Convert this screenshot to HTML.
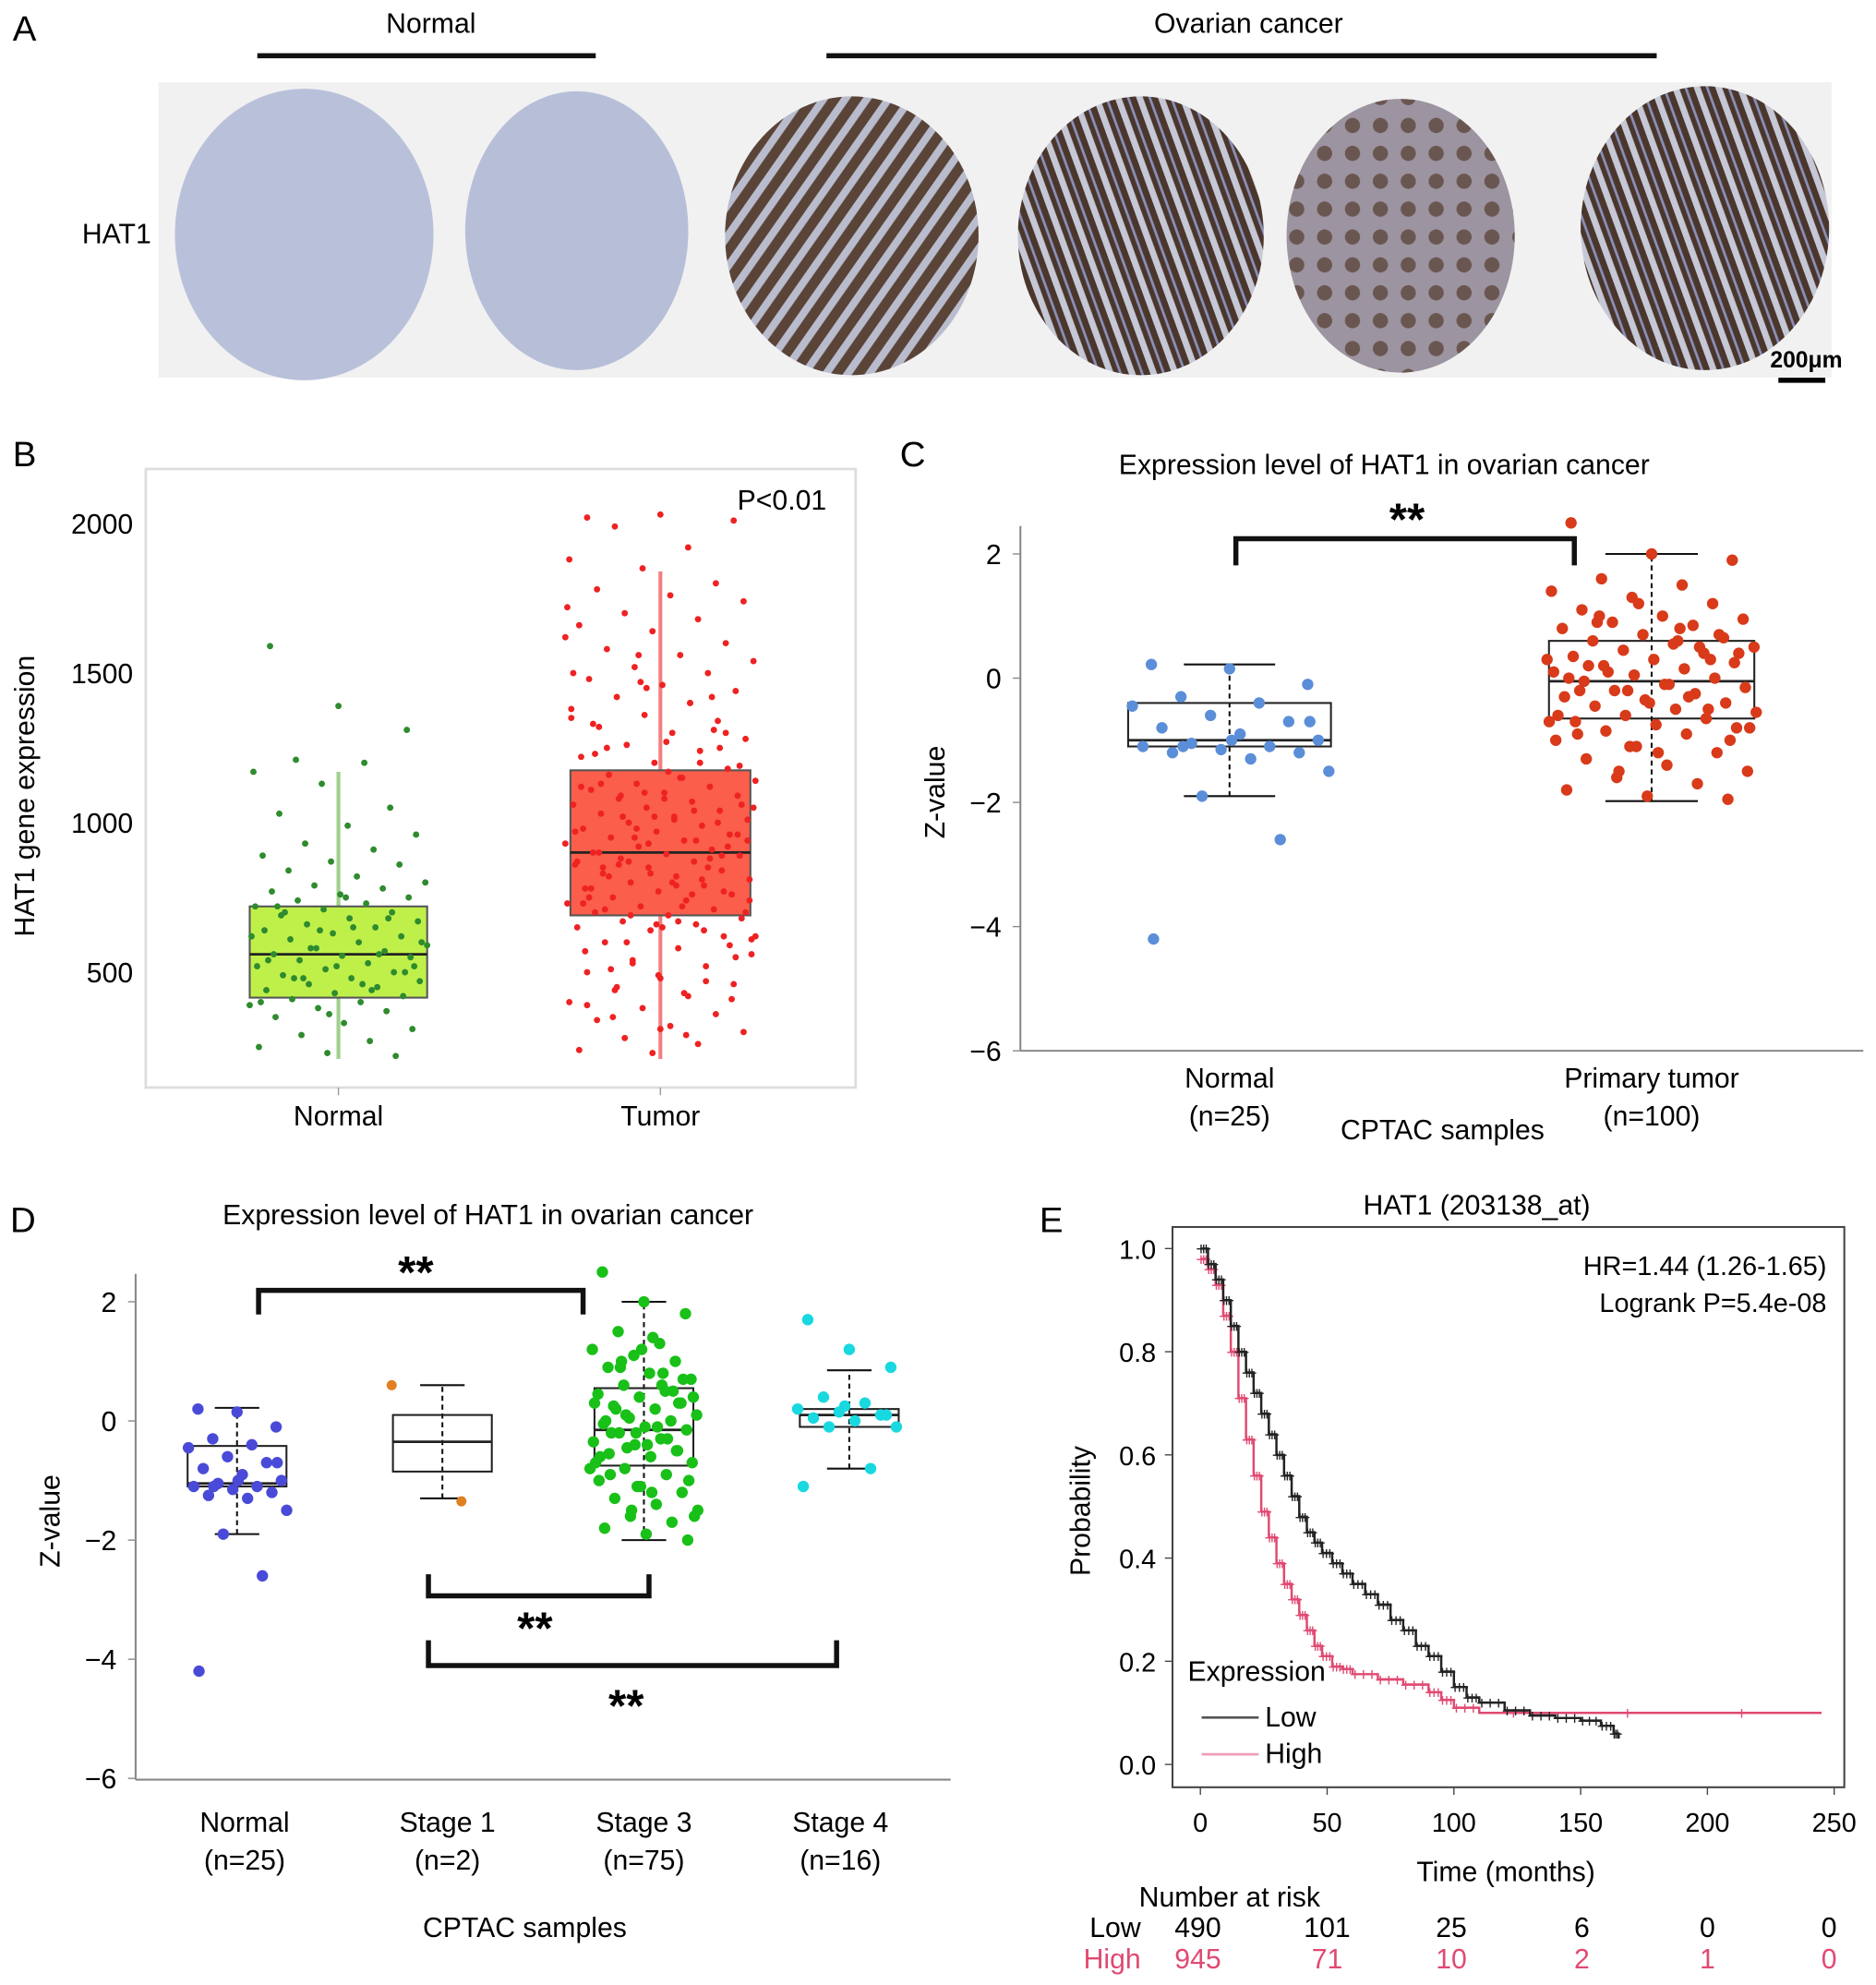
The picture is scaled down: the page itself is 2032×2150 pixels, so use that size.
<!DOCTYPE html>
<html><head><meta charset="utf-8"><style>
html,body{margin:0;padding:0;background:#fff}
svg{display:block;font-family:"Liberation Sans",sans-serif}
</style></head><body>
<svg id="fig" width="2032" height="2150" viewBox="0 0 1480 1566" preserveAspectRatio="none" xmlns="http://www.w3.org/2000/svg">
<defs>
<pattern id="tumorPat" width="14" height="14" patternUnits="userSpaceOnUse" patternTransform="rotate(35)">
<rect width="14" height="14" fill="#5a4438"/><rect x="0" y="0" width="6" height="14" fill="#b9bccd"/>
</pattern>
<pattern id="tumorPat2" width="16" height="16" patternUnits="userSpaceOnUse" patternTransform="rotate(-20)">
<rect width="16" height="16" fill="#4a362c"/><rect x="0" y="0" width="5" height="16" fill="#c6c8d6"/><rect x="9" y="0" width="2" height="16" fill="#8a90b8"/>
</pattern>
<pattern id="tumorPat3" width="22" height="22" patternUnits="userSpaceOnUse">
<rect width="22" height="22" fill="#9c94a0"/><circle cx="11" cy="11" r="6" fill="#6a5650"/>
</pattern>
</defs>
<g>
<text x="10" y="32" font-size="28">A</text>
<text x="340" y="26" font-size="22" text-anchor="middle">Normal</text>
<line x1="203" y1="44" x2="470" y2="44" stroke="#111" stroke-width="4"/>
<text x="985" y="26" font-size="22" text-anchor="middle">Ovarian cancer</text>
<line x1="652" y1="44" x2="1307" y2="44" stroke="#111" stroke-width="4"/>
<rect x="125" y="65" width="1320" height="233" fill="#f1f1f2"/>
<text x="92" y="192" font-size="22" text-anchor="middle">HAT1</text>
<ellipse cx="240" cy="185" rx="102" ry="115" fill="#b9c1da"/>
<ellipse cx="455" cy="182" rx="88" ry="110" fill="#b7bfd8"/>
<ellipse cx="672" cy="186" rx="100" ry="110" fill="url(#tumorPat)"/>
<ellipse cx="900" cy="186" rx="97" ry="110" fill="url(#tumorPat2)"/>
<ellipse cx="1105" cy="186" rx="90" ry="108" fill="url(#tumorPat3)"/>
<ellipse cx="1345" cy="180" rx="98" ry="112" fill="url(#tumorPat2)"/>
<text x="1425" y="290" font-size="18" font-weight="bold" text-anchor="middle">200μm</text>
<line x1="1403" y1="300" x2="1440" y2="300" stroke="#000" stroke-width="4"/>
</g>
<g id="panelB"></g>
<g id="panelC"></g>
<g id="panelD"></g>
<g id="panelE"></g>
</svg>
<script>
// ---- Panel B data ----
const bCategories = ["Normal","Tumor"];
const bTicks = [500,1000,1500,2000];
const bNormalBox = [210,415,560,720,1170];
const bTumorBox = [210,690,900,1175,1840];
const bNormalPts = [1590,1390,1310,1210,1200,1170,1130,1050,1030,990,960,930,910,890,870,860,840,820,800,790,780,770,760,750,740,730,720,710,700,690,680,670,660,650,640,630,620,610,600,590,580,570,560,555,550,540,530,520,510,500,490,480,470,460,450,440,430,420,410,400,390,380,370,350,330,310,290,270,250,230,220,700,650,600,580,560,540,520,500,480,460,620,640,680,720,750,520,480,440,400,360];
const bTumorPts = [2020,2030,2010,1990,1920,1880,1850,1800,1780,1760,1740,1700,1680,1660,1640,1600,1580,1560,1540,1520,1500,1480,1460,1440,1420,1400,1380,1360,1340,1320,1300,1280,1260,1240,1220,1200,1180,1160,1150,1140,1130,1120,1110,1100,1090,1080,1070,1060,1050,1040,1030,1020,1010,1000,990,980,970,960,950,940,930,920,910,900,895,890,880,870,860,850,840,830,820,810,800,790,780,770,760,750,740,730,720,710,700,690,680,670,660,650,640,620,600,580,560,540,520,500,480,460,440,420,400,380,360,340,320,300,280,260,240,230,1300,1250,1150,1050,950,850,750,650,550,450,1400,1350,1100,1000,900,800,700,600,1200,1120,1020,920,820,720,620,980,880,780,1080,960,860,760,1500,1450,1250,1130,1010,940,870,810,730,660,590,510,430,1620,1560,1420,1330,1270,1190,1090,1040,970,930,890,850,790,740,690,640,570,490,410,350,290,1720,1470,1310,1230,1170,1060,1020,940,870,830,770,710,670,610,530,470,390,310];
// ---- Panel C data ----
const cCategories = ["Normal","Primary tumor"];
const cCounts = ["(n=25)","(n=100)"];
const cTicks = [2,0,-2,-4,-6];
const cNormalBox = [-1.9,-1.1,-1.0,-0.4,0.22];
const cTumorBox = [-1.98,-0.65,-0.05,0.6,2.0];
const cNormalPts = [0.22,0.15,-0.1,-0.3,-0.4,-0.45,-0.6,-0.7,-0.8,-0.9,-1.0,-1.05,-1.1,-1.1,-1.15,-1.2,-1.2,-1.3,-1.5,-1.9,-2.6,-4.2,-1.0,-0.7,-1.1];
const cTumorPts = [2.5,2.0,1.9,1.6,1.5,1.4,1.3,1.2,1.1,1.0,0.95,0.9,0.85,0.8,0.7,0.65,0.6,0.55,0.5,0.45,0.4,0.35,0.3,0.25,0.2,0.15,0.1,0.05,0,-0.05,-0.1,-0.15,-0.2,-0.25,-0.3,-0.35,-0.4,-0.45,-0.5,-0.55,-0.6,-0.65,-0.7,-0.75,-0.8,-0.85,-0.9,-1.0,-1.1,-1.2,-1.3,-1.4,-1.5,-1.6,-1.7,-1.8,-1.9,-1.95,0.9,0.6,0.3,-0.2,-0.5,-0.9,-1.2,0.4,0.1,-0.3,-0.6,1.2,0.7,0.2,-0.1,-0.8,-1.5,0.5,0.0,-0.4,-1.0,1.0,0.8,-0.7,-1.1,0.3,-0.2];
// ---- Panel D data ----
const dCategories = ["Normal","Stage 1","Stage 3","Stage 4"];
const dCounts = ["(n=25)","(n=2)","(n=75)","(n=16)"];
const dTicks = [2,0,-2,-4,-6];
const dBoxes = [[-1.9,-1.1,-1.05,-0.42,0.22],[-1.3,-0.85,-0.35,0.1,0.6],[-2.0,-0.75,-0.15,0.55,2.0],[-0.8,-0.1,0.1,0.2,0.85]];
const dPts0 = [0.2,0.15,-0.1,-0.3,-0.4,-0.45,-0.6,-0.7,-0.8,-0.9,-1.0,-1.05,-1.1,-1.1,-1.15,-1.2,-1.25,-1.3,-1.5,-1.9,-2.6,-4.2,-1.0,-0.7,-1.1];
const dPts1 = [0.6,-1.35];
const dPts2 = [2.5,2.0,1.8,1.5,1.3,1.2,1.1,1.0,0.9,0.8,0.7,0.6,0.5,0.45,0.4,0.3,0.25,0.2,0.1,0.05,0,-0.05,-0.1,-0.15,-0.2,-0.3,-0.35,-0.4,-0.5,-0.55,-0.6,-0.7,-0.8,-0.9,-1.0,-1.1,-1.2,-1.3,-1.4,-1.5,-1.6,-1.7,-1.8,-1.9,-2.0,0.9,0.6,0.3,-0.2,-0.5,-0.9,-1.2,0.4,0.1,-0.3,-0.6,1.2,0.7,0.2,-0.1,-0.8,-1.5,0.5,0.0,-0.4,-1.0,1.0,0.8,-0.7,-1.1,0.3,-0.2,1.4,-1.6,-0.45];
const dPts3 = [1.7,1.2,0.9,0.4,0.3,0.2,0.15,0.1,0.05,0,-0.1,-0.1,-0.8,-1.1,0.25,0.1];
// ---- Panel E data ----
const eLowT = [0,3,6,9,12,15,18,21,24,27,30,33,36,39,42,45,48,52,56,60,65,70,75,80,85,90,95,100,105,110,120,130,140,150,158,163,165];
const eLowP = [1.0,0.97,0.94,0.90,0.85,0.80,0.76,0.72,0.68,0.64,0.60,0.56,0.52,0.48,0.45,0.43,0.41,0.39,0.37,0.35,0.33,0.31,0.28,0.26,0.23,0.21,0.18,0.15,0.13,0.12,0.105,0.095,0.09,0.085,0.075,0.06,0.05];
const eHighT = [0,3,6,9,12,15,18,21,24,27,30,33,36,39,42,45,48,52,56,60,70,80,90,95,100,110,245];
const eHighP = [0.98,0.96,0.93,0.87,0.80,0.71,0.63,0.56,0.49,0.44,0.39,0.35,0.32,0.29,0.26,0.23,0.21,0.19,0.185,0.175,0.165,0.155,0.14,0.125,0.11,0.10,0.10];
const eXTicks = [0,50,100,150,200,250];
const eYTicks = [0.0,0.2,0.4,0.6,0.8,1.0];
const eRiskLow = [490,101,25,6,0,0];
const eRiskHigh = [945,71,10,2,1,0];

const NS="http://www.w3.org/2000/svg";
function mk(parent,tag,attrs,text){const e=document.createElementNS(NS,tag);for(const k in attrs)e.setAttribute(k,attrs[k]);if(text!==undefined)e.textContent=text;parent.appendChild(e);return e;}
function jit(i,w){return (((i*37+11)%97)/96-0.5)*w;}
function boxplot(g,cx,hw,box,y,fill,name,dash){
  const wl=mk(g,'line',{x1:cx,x2:cx,y1:y(box[0]),y2:y(box[4]),stroke:dash?'#111':fill,'stroke-width':dash?1.5:3,'stroke-dasharray':dash?'4,3':''});
  
  
  if(dash){mk(g,'line',{x1:cx-hw*0.45,x2:cx+hw*0.45,y1:y(box[0]),y2:y(box[0]),stroke:'#111','stroke-width':1.5});mk(g,'line',{x1:cx-hw*0.45,x2:cx+hw*0.45,y1:y(box[4]),y2:y(box[4]),stroke:'#111','stroke-width':1.5});}
  const r=mk(g,'rect',{x:cx-hw,y:y(box[3]),width:hw*2,height:y(box[1])-y(box[3]),fill:dash?'none':fill,stroke:dash?'#222':'#555','stroke-width':1.5});
  
  
  mk(g,'line',{x1:cx-hw,x2:cx+hw,y1:y(box[2]),y2:y(box[2]),stroke:'#222','stroke-width':2});
}
function pts(g,cx,w,arr,y,col,r,name){arr.forEach((v,i)=>{const c=mk(g,'circle',{cx:cx+jit(i,w),cy:y(v),r:r,fill:col});
  
  });}

(function(){const g=document.getElementById('panelB');
 const y=v=>885-v*118/500;
 mk(g,'text',{x:10,y:368,'font-size':28},'B');
 mk(g,'rect',{x:115,y:370,width:560,height:488,fill:'#fff',stroke:'#ddd','stroke-width':2});
 bTicks.forEach(t=>{mk(g,'text',{x:105,y:y(t)+8,'font-size':22,'text-anchor':'end'},t);});
 const yt=mk(g,'text',{x:27,y:628,'font-size':22,'text-anchor':'middle',transform:'rotate(-90 27 628)'},'HAT1 gene expression');
 
 
 mk(g,'text',{x:652,y:402,'font-size':22,'text-anchor':'end'},'P<0.01');
 const xs=[267,521];
 boxplot(g,xs[0],70,bNormalBox,y,'#bff04a','b-normal');
 boxplot(g,xs[1],71,bTumorBox,y,'#fb5e4a','b-tumor');
 g.querySelectorAll('line')[0].setAttribute('stroke','#9fd08a');
 g.querySelectorAll('line')[2].setAttribute('stroke','#f08080');
 pts(g,xs[0],140,bNormalPts,y,'#2e8b2e',2.5,'b-normal-point');
 pts(g,xs[1],150,bTumorPts,y,'#ee2222',2.5,'b-tumor-point');
 bCategories.forEach((c,i)=>{mk(g,'line',{x1:xs[i],x2:xs[i],y1:858,y2:864,stroke:'#999'});mk(g,'text',{x:xs[i],y:888,'font-size':22,'text-anchor':'middle'},c);});
})();
(function(){const g=document.getElementById('panelC');
 const y=v=>535-v*49;
 mk(g,'text',{x:710,y:368,'font-size':28},'C');
 mk(g,'text',{x:1092,y:374,'font-size':22,'text-anchor':'middle'},'Expression level of HAT1 in ovarian cancer');
 mk(g,'line',{x1:805,x2:805,y1:415,y2:829,stroke:'#888','stroke-width':1.5});
 mk(g,'line',{x1:805,x2:1470,y1:829,y2:829,stroke:'#888','stroke-width':1.5});
 cTicks.forEach(t=>{mk(g,'line',{x1:799,x2:805,y1:y(t),y2:y(t),stroke:'#888'});mk(g,'text',{x:790,y:y(t)+8,'font-size':22,'text-anchor':'end'},t<0?'−'+(-t):t);});
 mk(g,'text',{x:745,y:625,'font-size':22,'text-anchor':'middle',transform:'rotate(-90 745 625)'},'Z-value');
 const xs=[970,1303];
 boxplot(g,xs[0],80,cNormalBox,y,'#fff','c-normal',true);
 boxplot(g,xs[1],81,cTumorBox,y,'#fff','c-tumor',true);
 pts(g,xs[0],160,cNormalPts,y,'#5b8ed8',4.5,'c-normal-point');
 pts(g,xs[1],165,cTumorPts,y,'#d83a1a',4.5,'c-tumor-point');
 mk(g,'path',{d:'M975 446 V425 H1242 V446',fill:'none',stroke:'#111','stroke-width':4});
 mk(g,'text',{x:1110,y:422,'font-size':36,'font-weight':'bold','text-anchor':'middle'},'**');
 cCategories.forEach((c,i)=>{mk(g,'text',{x:xs[i],y:858,'font-size':22,'text-anchor':'middle'},c);mk(g,'text',{x:xs[i],y:888,'font-size':22,'text-anchor':'middle'},cCounts[i]);});
 mk(g,'text',{x:1138,y:899,'font-size':22,'text-anchor':'middle'},'CPTAC samples');
})();
(function(){const g=document.getElementById('panelD');
 const y=v=>1121-v*47;
 mk(g,'text',{x:8,y:972,'font-size':28},'D');
 mk(g,'text',{x:385,y:966,'font-size':22,'text-anchor':'middle'},'Expression level of HAT1 in ovarian cancer');
 mk(g,'line',{x1:107,x2:107,y1:1005,y2:1404,stroke:'#888','stroke-width':1.5});
 mk(g,'line',{x1:107,x2:750,y1:1404,y2:1404,stroke:'#888','stroke-width':1.5});
 dTicks.forEach(t=>{mk(g,'line',{x1:101,x2:107,y1:y(t),y2:y(t),stroke:'#888'});mk(g,'text',{x:92,y:y(t)+8,'font-size':22,'text-anchor':'end'},t<0?'−'+(-t):t);});
 mk(g,'text',{x:47,y:1200,'font-size':22,'text-anchor':'middle',transform:'rotate(-90 47 1200)'},'Z-value');
 const xs=[187,349,508,670];
 const cols=['#4a4ad8','#e08020','#18c018','#18d8e0'];
 const sets=[dPts0,dPts1,dPts2,dPts3];
 dBoxes.forEach((b,i)=>boxplot(g,xs[i],39,b,y,'#fff','d-'+dCategories[i].toLowerCase().replace(' ','-'),true));
 sets.forEach((s,i)=>{ if(i===1){s.forEach((v,j)=>{const c=mk(g,'circle',{cx:xs[i]+(j?15:-40),cy:y(v),r:4,fill:cols[i]});});} else pts(g,xs[i],i===0?80:85,s,y,cols[i],4.5,'d-point-'+i);});
 mk(g,'path',{d:'M204 1037 V1018 H460 V1037',fill:'none',stroke:'#111','stroke-width':4});
 mk(g,'text',{x:328,y:1016,'font-size':36,'font-weight':'bold','text-anchor':'middle'},'**');
 mk(g,'path',{d:'M338 1242 V1259 H512 V1242',fill:'none',stroke:'#111','stroke-width':4});
 mk(g,'text',{x:422,y:1297,'font-size':36,'font-weight':'bold','text-anchor':'middle'},'**');
 mk(g,'path',{d:'M338 1294 V1314 H660 V1294',fill:'none',stroke:'#111','stroke-width':4});
 mk(g,'text',{x:494,y:1358,'font-size':36,'font-weight':'bold','text-anchor':'middle'},'**');
 const lx=[193,353,508,663];
 dCategories.forEach((c,i)=>{mk(g,'text',{x:lx[i],y:1445,'font-size':22,'text-anchor':'middle'},c);mk(g,'text',{x:lx[i],y:1475,'font-size':22,'text-anchor':'middle'},dCounts[i]);});
 mk(g,'text',{x:414,y:1528,'font-size':22,'text-anchor':'middle'},'CPTAC samples');
})();
(function(){const g=document.getElementById('panelE');
 const x=t=>947+t*2, y=p=>1392-p*407;
 mk(g,'text',{x:820,y:972,'font-size':28},'E');
 mk(g,'text',{x:1165,y:958,'font-size':22,'text-anchor':'middle'},'HAT1 (203138_at)');
 mk(g,'rect',{x:925,y:968,width:530,height:442,fill:'none',stroke:'#444','stroke-width':1.5});
 eYTicks.forEach(t=>{mk(g,'line',{x1:919,x2:925,y1:y(t),y2:y(t),stroke:'#444'});mk(g,'text',{x:912,y:y(t)+8,'font-size':21,'text-anchor':'end'},t.toFixed(1));});
 eXTicks.forEach(t=>{mk(g,'line',{x1:x(t),x2:x(t),y1:1410,y2:1416,stroke:'#444'});mk(g,'text',{x:x(t),y:1445,'font-size':21,'text-anchor':'middle'},t);});
 mk(g,'text',{x:860,y:1192,'font-size':22,'text-anchor':'middle',transform:'rotate(-90 860 1192)'},'Probability');
 mk(g,'text',{x:1188,y:1484,'font-size':22,'text-anchor':'middle'},'Time (months)');
 mk(g,'text',{x:1441,y:1006,'font-size':21,'text-anchor':'end'},'HR=1.44 (1.26-1.65)');
 mk(g,'text',{x:1441,y:1035,'font-size':21,'text-anchor':'end'},'Logrank P=5.4e-08');
 function km(T,P,col,name){let d='M'+x(T[0])+' '+y(P[0]);for(let i=1;i<T.length;i++){d+=' H'+x(T[i])+' V'+y(P[i]);}
  const p=mk(g,'path',{d:d,fill:'none',stroke:col,'stroke-width':1.8});
  
  
  for(let i=0;i<T.length-1;i++){for(let k=0;k<3;k++){const tx=x(T[i])+(x(T[i+1])-x(T[i]))*(k+0.3)/3;mk(g,'text',{x:tx,y:y(P[i])+5,'font-size':14,'text-anchor':'middle',fill:col},'+');}}}
 km(eHighT,eHighP,'#e04a72','km-high-curve');
 km(eLowT,eLowP,'#222','km-low-curve');
 mk(g,'text',{x:937,y:1326,'font-size':22},'Expression');
 mk(g,'line',{x1:948,x2:993,y1:1355,y2:1355,stroke:'#555','stroke-width':2});
 mk(g,'text',{x:998,y:1362,'font-size':22},'Low');
 mk(g,'line',{x1:948,x2:993,y1:1384,y2:1384,stroke:'#f0a0b8','stroke-width':2});
 mk(g,'text',{x:998,y:1391,'font-size':22},'High');
 mk(g,'text',{x:970,y:1504,'font-size':22,'text-anchor':'middle'},'Number at risk');
 mk(g,'text',{x:900,y:1528,'font-size':22,'text-anchor':'end'},'Low');
 mk(g,'text',{x:900,y:1553,'font-size':22,'text-anchor':'end',fill:'#e04a72'},'High');
 const rx=[945,1047,1145,1248,1347,1443];
 eRiskLow.forEach((v,i)=>mk(g,'text',{x:rx[i],y:1528,'font-size':22,'text-anchor':'middle'},v));
 eRiskHigh.forEach((v,i)=>mk(g,'text',{x:rx[i],y:1553,'font-size':22,'text-anchor':'middle',fill:'#e04a72'},v));
})();
</script>
</body></html>
